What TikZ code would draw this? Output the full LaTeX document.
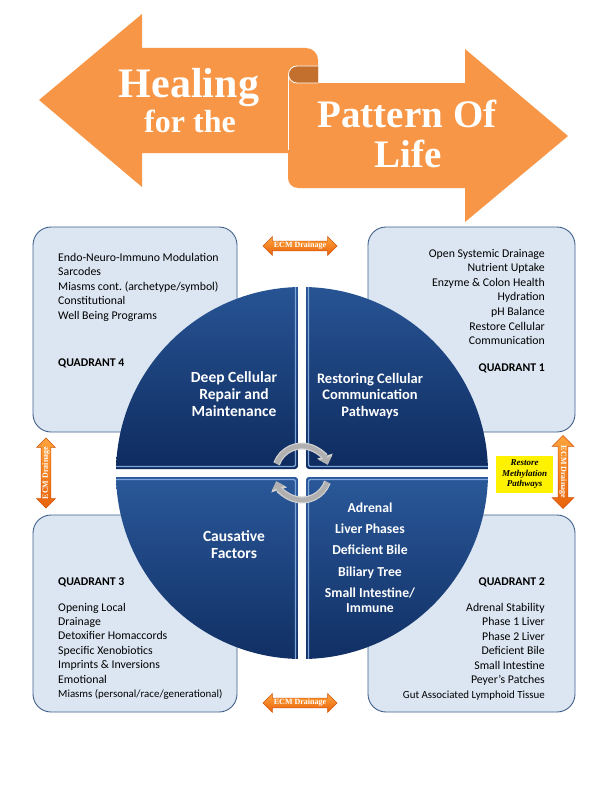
\documentclass[tikz,border=0pt]{standalone}
\usepackage{fontspec}
\setmainfont{Liberation Serif}
\newfontfamily\calib{Carlito}
\usetikzlibrary{shapes.arrows,arrows.meta}
\frenchspacing
\definecolor{banner}{HTML}{F79646}
\definecolor{curl}{HTML}{C3702F}
\definecolor{boxfill}{HTML}{DCE6F2}
\definecolor{boxline}{HTML}{41618C}
\definecolor{qtop}{HTML}{2A5899}
\definecolor{qbot}{HTML}{0E2B5F}
\definecolor{qedge}{HTML}{7EA6DA}
\definecolor{ecmA}{HTML}{FFA43C}
\definecolor{ecmB}{HTML}{E8620A}
\definecolor{ecmline}{HTML}{D0520C}
\begin{document}
\begin{tikzpicture}[x=1pt,y=-1pt,
  qbox/.style={fill=boxfill, draw=boxline, line width=0.9pt, rounded corners=18pt},
  bodytxt/.style={font=\calib\fontsize{11.8}{14.5}\selectfont, inner sep=0pt, text=black},
  smalltxt/.style={font=\calib\fontsize{10.9}{14.5}\selectfont, inner sep=0pt, text=black},
  bodybold/.style={inner sep=0pt, text=black, font=\calib\bfseries\fontsize{11.8}{14.5}\selectfont},
  qtxt/.style={font=\calib\bfseries\fontsize{15.5}{17}\selectfont, text=white, inner sep=0pt, anchor=base},
  qtxtb/.style={font=\calib\bfseries\fontsize{14.5}{17}\selectfont, text=white, inner sep=0pt, anchor=base},
  qtxtc/.style={font=\calib\bfseries\fontsize{13.7}{17}\selectfont, text=white, inner sep=0pt, anchor=base},
  titletxt/.style={text=white, inner sep=0pt, anchor=base},
  ecm/.style={double arrow, double arrow head extend=4.5pt, inner xsep=1pt, inner ysep=1pt,
    minimum height=74pt, top color=ecmA, bottom color=ecmB, draw=ecmline, line width=0.5pt,
    text=white, font=\bfseries\fontsize{8}{8}\selectfont},
  carrowout/.style={line width=7pt, draw=gray!35, -{Triangle[length=9pt,width=16pt,fill=gray!35]}},
  carrowin/.style={line width=4.6pt, draw=gray!62, -{Triangle[length=7pt,width=13pt,fill=gray!62]}}
]
\useasboundingbox (0,0) rectangle (607,800);
\fill[white] (0,0) rectangle (607,800);

% ---- banner ----
\fill[banner] (39,100) -- (142,14) -- (142,48) -- (306,48) to[out=0,in=90] (318,60) -- (318,153) -- (142,153) -- (142,187) -- cycle;
\fill[banner] (298,83) -- (465,83) -- (465,49) -- (568,136) -- (465,222) -- (465,188) -- (298,188) to[out=180,in=-90] (288,178) -- (288,75) -- cycle;
\filldraw[fill=curl, draw=white, line width=0.8pt] (318,66) -- (297,66) arc[start angle=90, end angle=270, radius=8.5pt] -- (318,83);
\draw[white, line width=0.6pt] (288,75) -- (288,150);
\node[titletxt, font=\bfseries\fontsize{42}{42}\selectfont] (healing) at (189,97) {Healing};
\node[titletxt, font=\bfseries\fontsize{32}{32}\selectfont] (forthe) at (190,132) {for the};
\node[titletxt, font=\bfseries\fontsize{39}{39}\selectfont] (pattern) at (407,127) {Pattern Of};
\node[titletxt, font=\bfseries\fontsize{39}{39}\selectfont] (life) at (408,167) {Life};

% ---- quadrant boxes ----
\draw[qbox] (33,227) rectangle (237,432);
\draw[qbox] (368,227) rectangle (575,432);
\draw[qbox] (33,515) rectangle (237,712);
\draw[qbox] (368,515) rectangle (575,712);

% ---- circle ----
\foreach \ix/\iy/\sx/\sy in {298/469/-1/-1, 306/469/1/-1, 298/477/-1/1, 306/477/1/1} {
  \begin{scope}
    \clip (302,473) circle[radius=186pt];
    \clip[rounded corners=3pt] (\ix,\iy) rectangle ({\ix+\sx*200},{\iy+\sy*200});
    \shade[top color=qtop, bottom color=qbot] (\ix,\iy) rectangle ({\ix+\sx*200},{\iy+\sy*200});
    \draw[qedge, line width=1.3pt, rounded corners=2pt] ({\ix+\sx*2.5},{\iy+\sy*200}) -- ({\ix+\sx*2.5},{\iy+\sy*2.5}) -- ({\ix+\sx*200},{\iy+\sy*2.5});
  \end{scope}
}

% ---- centre cycle arrows ----
\draw[carrowout] ([shift={(160:27pt)}]302,473) arc[start angle=160, end angle=18, radius=27pt];
\draw[carrowin] ([shift={(160:27pt)}]302,473) arc[start angle=160, end angle=18, radius=27pt];
\draw[carrowout] ([shift={(-20:27pt)}]302,473) arc[start angle=-20, end angle=-162, radius=27pt];
\draw[carrowin] ([shift={(-20:27pt)}]302,473) arc[start angle=-20, end angle=-162, radius=27pt];

% ---- circle texts ----
\foreach \t [count=\i from 0] in {Deep Cellular, Repair and, Maintenance}
  \node[qtxt] (dc\i) at (234,{382+17*\i}) {\t};
\foreach \t [count=\i from 0] in {Restoring Cellular, Communication, Pathways}
  \node[qtxtb] (rc\i) at (370,{383+16.5*\i}) {\t};
\foreach \t [count=\i from 0] in {Causative, Factors}
  \node[qtxt] (cf\i) at (234,{541+17*\i}) {\t};
\node[qtxtc] (ad0) at (370,512) {Adrenal};
\node[qtxtc] (ad1) at (370,533) {Liver Phases};
\node[qtxtc] (ad2) at (370,554) {Deficient Bile};
\node[qtxtc] (ad3) at (370,576) {Biliary Tree};
\node[qtxtc] (ad4) at (370,597) {Small Intestine/};
\node[qtxtc] (ad5) at (370,612) {Immune};

% ---- box texts ----
\foreach \t [count=\i from 0] in {Endo-Neuro-Immuno Modulation, Sarcodes, Miasms cont. (archetype/symbol), Constitutional, Well Being Programs}
  \node[bodytxt, anchor=base west] (qf\i) at (58,{261+14.5*\i}) {\t};
\node[bodybold, anchor=base west] (qfour) at (58,366) {QUADRANT 4};

\foreach \t [count=\i from 0] in {Open Systemic Drainage, Nutrient Uptake, Enzyme \& Colon Health, Hydration, pH Balance, Restore Cellular, Communication}
  \node[bodytxt, anchor=base east] (qo\i) at (545,{257+14.6*\i}) {\t};
\node[bodybold, anchor=base east] (qone) at (545,371) {QUADRANT 1};

\node[bodybold, anchor=base west] (qthree) at (58,585) {QUADRANT 3};
\foreach \t [count=\i from 0] in {Opening Local, Drainage, Detoxifier Homaccords, Specific Xenobiotics, Imprints \& Inversions, Emotional}
  \node[bodytxt, anchor=base west] (qt\i) at (58,{611+14.4*\i}) {\t};
\node[smalltxt, anchor=base west] (qt6) at (58,697.4) {Miasms (personal/race/generational)};

\node[bodybold, anchor=base east] (qtwo) at (545,585) {QUADRANT 2};
\foreach \t [count=\i from 0] in {Adrenal Stability, Phase 1 Liver, Phase 2 Liver, Deficient Bile, Small Intestine, Peyer’s Patches}
  \node[bodytxt, anchor=base east] (qw\i) at (545,{611+14.5*\i}) {\t};
\node[smalltxt, anchor=base east] (qw6) at (545,698) {Gut Associated Lymphoid Tissue};

% ---- ECM drainage arrows ----
\node[ecm] (ecmtop) at (300,246) {ECM Drainage};
\node[ecm] (ecmbot) at (300,703) {ECM Drainage};
\node[ecm, rotate=90, minimum height=70pt] (ecmleft) at (46,473) {ECM Drainage};
\node[ecm, rotate=-90, minimum height=73pt, double arrow head extend=6pt] (ecmright) at (563,472) {ECM Drainage};

% ---- methylation box ----
\node[fill=yellow, minimum width=57pt, minimum height=37pt, inner sep=0pt, align=center,
  font=\bfseries\itshape\fontsize{9}{10.5}\selectfont] (methyl) at (524.5,474.5) {Restore\\Methylation\\Pathways};
\end{tikzpicture}
\end{document}
